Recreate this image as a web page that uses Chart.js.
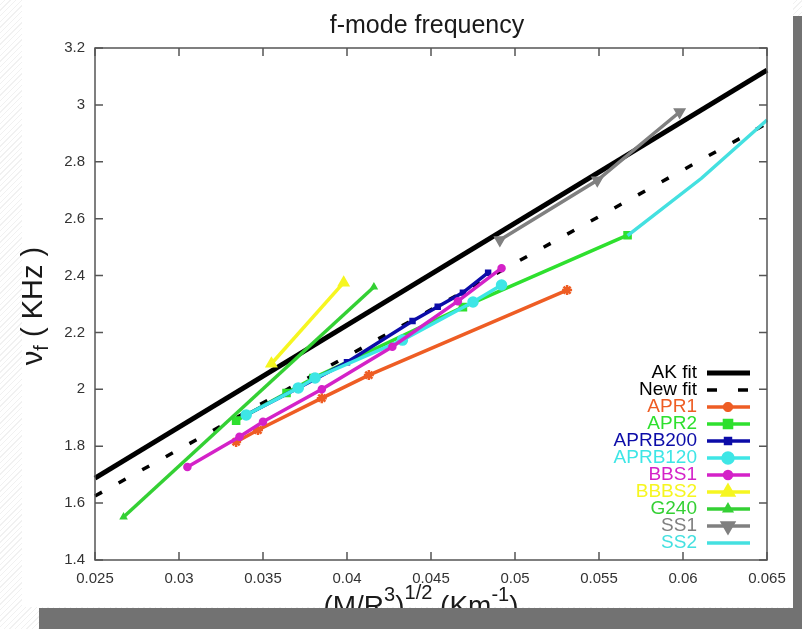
<!DOCTYPE html>
<html><head><meta charset="utf-8">
<script src="https://cdn.jsdelivr.net/npm/chart.js@4/dist/chart.umd.min.js"></script>
<style>
html,body{margin:0;padding:0;background:#fff;}
#wrap{position:relative;width:802px;height:629px;overflow:hidden;
 background:repeating-linear-gradient(135deg,#fff 0px,#fff 3px,#f1f1f1 3px,#f1f1f1 4px);}
#white{position:absolute;left:22px;top:0;width:771px;height:607px;background:#fff;}
canvas{position:absolute;left:0;top:0;}
.bar{position:absolute;background:#727272;}
</style></head><body>
<div id="wrap">
<div id="white"></div>
<canvas id="c" width="802" height="629"></canvas>
<div class="bar" style="left:793px;top:16px;width:9px;height:613px;"></div>
<div class="bar" style="left:39px;top:608px;width:763px;height:21px;"></div>
</div>
<script>
// ---- data ----
const xTickValues = [0.025,0.03,0.035,0.04,0.045,0.05,0.055,0.06,0.065];
const xTickLabels = ["0.025","0.03","0.035","0.04","0.045","0.05","0.055","0.06","0.065"];
const yTickValues = [1.4,1.6,1.8,2.0,2.2,2.4,2.6,2.8,3.0,3.2];
const yTickLabels = ["1.4","1.6","1.8","2","2.2","2.4","2.6","2.8","3","3.2"];

const akFitX = [0.025,0.065];      const akFitY = [1.688,3.122];
const newFitX = [0.025,0.065];     const newFitY = [1.625,2.935];
const apr1X = [0.0334,0.0347,0.0385,0.0413,0.0531];
const apr1Y = [1.815,1.857,1.969,2.050,2.349];
const apr2X = [0.0334,0.0364,0.0380,0.0469,0.0567];
const apr2Y = [1.890,1.987,2.040,2.289,2.542];
const aprb200X = [0.0340,0.0371,0.0400,0.0439,0.0454,0.0469,0.0484];
const aprb200Y = [1.910,2.005,2.095,2.240,2.290,2.340,2.410];
const aprb120X = [0.0340,0.0371,0.0381,0.0433,0.0475,0.0492];
const aprb120Y = [1.910,2.005,2.040,2.173,2.307,2.367];
const bbs1X = [0.0305,0.0336,0.0350,0.0385,0.0427,0.0466,0.0492];
const bbs1Y = [1.727,1.833,1.886,2.000,2.150,2.310,2.426];
const bbbs2X = [0.0355,0.0398];    const bbbs2Y = [2.090,2.375];
const g240X = [0.0267,0.0416];     const g240Y = [1.551,2.360];
const ss1X = [0.0491,0.0549,0.0598]; const ss1Y = [2.525,2.735,2.975];
const ss2X = [0.0567,0.0611,0.0650]; const ss2Y = [2.540,2.742,2.947];

const pts = (xs,ys)=>xs.map((x,i)=>({x:x,y:ys[i]}));
const FONT = "'Liberation Sans', Arial, sans-serif";

const series = [
 {label:'AK fit', data:pts(akFitX,akFitY), color:'#000000', width:5, style:false, r:0},
 {label:'New fit', data:pts(newFitX,newFitY), color:'#000000', width:3.5, style:false, r:0, dash:[8,19]},
 {label:'APR1', data:pts(apr1X,apr1Y), color:'#ee5d24', width:3.5, style:'star', r:5},
 {label:'APR2', data:pts(apr2X,apr2Y), color:'#2ee02e', width:3.5, style:'rect', r:5},
 {label:'APRB200', data:pts(aprb200X,aprb200Y), color:'#0c0ca8', width:3.5, style:'rect', r:3.5},
 {label:'APRB120', data:pts(aprb120X,aprb120Y), color:'#3ee6e6', width:3.5, style:'circle', r:5},
 {label:'BBS1', data:pts(bbs1X,bbs1Y), color:'#d422c8', width:3.5, style:'circle', r:3.5},
 {label:'BBBS2', data:pts(bbbs2X,bbbs2Y), color:'#f6f620', width:3.5, style:'triangle', r:6},
 {label:'G240', data:pts(g240X,g240Y), color:'#34d034', width:3.5, style:'triangle', r:3.5},
 {label:'SS1', data:pts(ss1X,ss1Y), color:'#808080', width:3.5, style:'triangle', r:6, rot:180},
 {label:'SS2', data:pts(ss2X,ss2Y), color:'#44e0e0', width:3.5, style:'circle', r:0}
];

const n = series.length;
const datasets = series.map((s,i)=>({
 label:s.label, data:s.data, showLine:true,
 borderColor:s.color, backgroundColor:s.color, borderWidth:s.width,
 borderDash:s.dash||[], pointStyle:s.style, pointRadius:s.r,
 pointBorderWidth:s.style==='star'?2.5:1.5, pointRotation:s.rot||0, pointHoverRadius:s.r,
 order:n-i, clip:4
}));

const deco = {
 id:'deco',
 afterDraw(chart){
  const ctx=chart.ctx, a=chart.chartArea, xs=chart.scales.x, ys=chart.scales.y;
  ctx.save();
  // border + mirrored inward ticks
  ctx.strokeStyle='#555'; ctx.lineWidth=1.5;
  ctx.strokeRect(a.left,a.top,a.right-a.left,a.bottom-a.top);
  ctx.beginPath();
  xTickValues.forEach(v=>{const px=xs.getPixelForValue(v);
   ctx.moveTo(px,a.bottom); ctx.lineTo(px,a.bottom-8);
   ctx.moveTo(px,a.top); ctx.lineTo(px,a.top+8);});
  yTickValues.forEach(v=>{const py=ys.getPixelForValue(v);
   ctx.moveTo(a.left,py); ctx.lineTo(a.left+8,py);
   ctx.moveTo(a.right,py); ctx.lineTo(a.right-8,py);});
  ctx.stroke();
  // title
  ctx.fillStyle='#1a1a1a'; ctx.textAlign='center'; ctx.textBaseline='alphabetic';
  ctx.font='25px '+FONT;
  ctx.fillText('f-mode frequency',427,33);
  // y title
  ctx.save();
  ctx.translate(42,306); ctx.rotate(-Math.PI/2);
  const yParts=[['ν',29,0],['f',20,6],[' ( KHz )',29,0]];
  drawParts(ctx,yParts,0,0);
  ctx.restore();
  // x title
  const xParts=[['(M/R',28,0],['3',20,-14],[')',28,0],['1/2',20,-16],[' (Km',28,0],['-1',20,-14],[')',28,0]];
  drawParts(ctx,xParts,421,615);
  // legend
  ctx.textAlign='right'; ctx.textBaseline='middle';
  series.forEach((s,i)=>{
   const y=373+17*i;
   ctx.font='19px '+FONT; ctx.fillStyle=s.color;
   ctx.fillText(s.label,697,y);
   ctx.beginPath(); ctx.strokeStyle=s.color; ctx.lineWidth=s.width;
   if(s.dash){ctx.setLineDash([10,21]);} else ctx.setLineDash([]);
   ctx.moveTo(707,y); ctx.lineTo(750,y); ctx.stroke();
   ctx.setLineDash([]);
   if(s.r>0){
    ctx.fillStyle=s.color; ctx.strokeStyle=s.color;
    Chart.helpers.drawPoint(ctx,{pointStyle:s.style,radius:s.r,rotation:s.rot||0,borderWidth:s.style==='star'?2.5:1.5},728,y);
   }
  });
  ctx.restore();
 }
};
function drawParts(ctx,parts,cx,baseY){
 let total=0;
 parts.forEach(p=>{ctx.font=p[1]+'px '+FONT; total+=ctx.measureText(p[0]).width;});
 let x=cx-total/2;
 ctx.textAlign='left'; ctx.textBaseline='alphabetic'; ctx.fillStyle='#1a1a1a';
 parts.forEach(p=>{ctx.font=p[1]+'px '+FONT; ctx.fillText(p[0],x,baseY+p[2]); x+=ctx.measureText(p[0]).width;});
}

new Chart(document.getElementById('c'),{
 type:'scatter',
 data:{datasets:datasets},
 options:{
  responsive:false, animation:false,
  layout:{padding:{top:48,right:35,left:0,bottom:0}},
  plugins:{legend:{display:false},title:{display:false},tooltip:{enabled:false}},
  scales:{
   x:{type:'linear',min:0.025,max:0.065,
      grid:{display:false,drawTicks:false},border:{display:false},
      ticks:{padding:10,color:'#333',font:{size:15,family:FONT},maxRotation:0,autoSkip:false,
        callback:(v)=>{const i=xTickValues.findIndex(t=>Math.abs(t-v)<1e-9);return i>=0?xTickLabels[i]:'';}},
      afterBuildTicks:(s)=>{s.ticks=xTickValues.map(v=>({value:v}));},
      afterFit:(s)=>{s.height=69;}},
   y:{type:'linear',min:1.4,max:3.2,
      grid:{display:false,drawTicks:false},border:{display:false},
      ticks:{padding:10,color:'#333',font:{size:15,family:FONT},autoSkip:false,
        callback:(v)=>{const i=yTickValues.findIndex(t=>Math.abs(t-v)<1e-9);return i>=0?yTickLabels[i]:'';}},
      afterBuildTicks:(s)=>{s.ticks=yTickValues.map(v=>({value:v}));},
      afterFit:(s)=>{s.width=95;}}
  }
 },
 plugins:[deco]
});
</script>
</body></html>
